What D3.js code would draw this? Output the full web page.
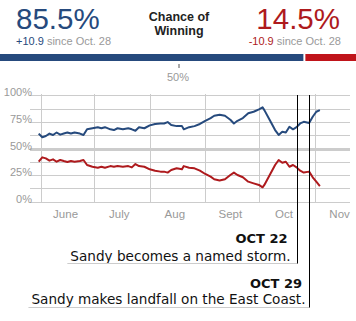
<!DOCTYPE html>
<html><head><meta charset="utf-8">
<script src="https://cdn.jsdelivr.net/npm/d3@7"></script>
<style>
html,body{margin:0;padding:0;background:#fff;}
svg{display:block;}
</style></head>
<body>
<script>
// ---- data ----
const dates = ["2012-05-31","2012-06-02","2012-06-04","2012-06-06","2012-06-08","2012-06-10","2012-06-12","2012-06-14","2012-06-16","2012-06-18","2012-06-20","2012-06-23","2012-06-25","2012-06-27","2012-06-30",
"2012-07-03","2012-07-05","2012-07-07","2012-07-10","2012-07-12","2012-07-14","2012-07-17","2012-07-20","2012-07-22","2012-07-24","2012-07-26","2012-07-29",
"2012-08-01","2012-08-04","2012-08-07","2012-08-09","2012-08-11","2012-08-13","2012-08-16","2012-08-19","2012-08-20","2012-08-23","2012-08-26","2012-08-29",
"2012-09-01","2012-09-04","2012-09-06","2012-09-09","2012-09-12","2012-09-15","2012-09-17","2012-09-19","2012-09-22","2012-09-25","2012-09-28",
"2012-10-01","2012-10-03","2012-10-04","2012-10-07","2012-10-10","2012-10-12","2012-10-14","2012-10-16","2012-10-18","2012-10-20","2012-10-22","2012-10-24","2012-10-26","2012-10-29","2012-10-31",
"2012-11-02","2012-11-04"];
const obamaChance = [64,60.5,61.7,64,62.7,65,63,64,65,64,65,64,62.7,68,69,
70,69,70,68,67.3,69,68,69,68,66.7,70,69,
71.7,73,73.5,73.5,74.8,72,71,71,68,70,71,73,
76,78.5,80.7,81.7,80.7,77,73.5,76,78.5,83,84.5,
86.7,88.6,86,76.7,67.3,62.7,65.7,65,70.4,68,70,73.5,75,74,79.8,
84.5,86];
const romneyChance = [37.6,41.7,40.7,38.6,39.8,37.6,39.2,38.2,37.3,38.2,37.6,38.2,39.2,34.5,32.9,
32,32.9,32,33.5,32.9,33.5,32.9,33.5,32.3,35.4,33.5,32.9,
30.5,29.2,28.3,28.3,27.4,29.8,31.4,30.5,33.5,32,31.4,29.2,
26.1,23.6,21.1,19.9,21.1,25.1,27.4,25.1,23,18.9,17.3,
15.8,13.6,15.8,25.1,34.5,39.2,36.7,37.6,32.9,34.5,32.3,29.2,27.4,28.3,23,
18.9,14.8];
const yTicks = [0,25,50,75,100];
const yGrid = [0,12.5,25,37.5,50,62.5,75,87.5,100];
const monthStarts = ["2012-06-01","2012-07-01","2012-08-01","2012-09-01","2012-10-01","2012-11-01"];
const monthLabels = ["June","July","Aug","Sept","Oct","Nov"];
const monthLabelDates = ["2012-06-15","2012-07-15","2012-08-15","2012-09-15","2012-10-15","2012-11-15"];
const headline = {obama:85.5, romney:14.5, obamaChange:"+10.9", romneyChange:"-10.9", since:"since Oct. 28"};
const events = [
  {date:"2012-10-22", title:"OCT 22", text:"Sandy becomes a named storm."},
  {date:"2012-10-29", title:"OCT 29", text:"Sandy makes landfall on the East Coast."}
];

// ---- drawing ----
const W=356,H=321;
const BLUE="#264a7d", RED="#ae1a1d";
const parse=d3.timeParse("%Y-%m-%d");
const svg=d3.select("body").append("svg").attr("width",W).attr("height",H);
const SANS="Liberation Sans, Arial, sans-serif";

// Header
svg.append("text").attr("x",16).attr("y",28.5).attr("font-family",SANS)
  .attr("font-size",29.5).attr("fill",BLUE).text(headline.obama+"%");
const sub1=svg.append("text").attr("x",16).attr("y",45).attr("font-family",SANS).attr("font-size",11);
sub1.append("tspan").attr("fill",BLUE).text(headline.obamaChange);
sub1.append("tspan").attr("fill","#999").text(" "+headline.since);

svg.append("text").attr("x",340).attr("y",28.5).attr("text-anchor","end").attr("font-family",SANS)
  .attr("font-size",29.5).attr("fill",RED).text(headline.romney+"%");
const sub2=svg.append("text").attr("x",341).attr("y",45).attr("text-anchor","end").attr("font-family",SANS).attr("font-size",11);
sub2.append("tspan").attr("fill",RED).text(headline.romneyChange);
sub2.append("tspan").attr("fill","#999").text(" "+headline.since);

svg.append("text").attr("x",179).attr("y",21).attr("text-anchor","middle").attr("font-family",SANS)
  .attr("font-size",12.5).attr("font-weight","bold").attr("fill","#222").text("Chance of");
svg.append("text").attr("x",179).attr("y",35).attr("text-anchor","middle").attr("font-family",SANS)
  .attr("font-size",12.5).attr("font-weight","bold").attr("fill","#222").text("Winning");

// bar
const xb=d3.scaleLinear().domain([0,100]).range([0,W]);
svg.append("rect").attr("x",xb(0)).attr("y",54).attr("width",xb(headline.obama)-1).attr("height",7).attr("fill",BLUE);
svg.append("rect").attr("x",xb(headline.obama)+1).attr("y",54).attr("width",xb(100)-xb(headline.obama)-1).attr("height",7).attr("fill","#c0141a");
svg.append("line").attr("x1",xb(50)+1).attr("x2",xb(50)+1).attr("y1",64).attr("y2",68).attr("stroke","#555").attr("stroke-width",1);
svg.append("text").attr("x",xb(50)).attr("y",81).attr("text-anchor","middle").attr("font-family",SANS)
  .attr("font-size",11).attr("fill","#999").text("50%");

// chart
const x=d3.scaleTime().domain([parse("2012-06-01"),parse("2012-11-01")]).range([40.5,314.5]);
const y=d3.scaleLinear().domain([0,100]).range([201.8,95.2]);

const g=svg.append("g");
g.selectAll("line.hg").data(yGrid).enter().append("line")
  .attr("x1",30).attr("x2",350).attr("y1",d=>Math.round(y(d))+0.5).attr("y2",d=>Math.round(y(d))+0.5)
  .attr("stroke","#ccc").attr("stroke-width",d=>d===50?3:1);
g.selectAll("line.vg").data(monthStarts).enter().append("line")
  .attr("x1",d=>Math.round(x(parse(d)))+0.5).attr("x2",d=>Math.round(x(parse(d)))+0.5)
  .attr("y1",94).attr("y2",203).attr("stroke","#ccc").attr("stroke-width",1);

g.selectAll("text.yl").data(yTicks).enter().append("text")
  .attr("x",32).attr("y",d=>y(d)+1).attr("text-anchor","end")
  .attr("font-family",SANS).attr("font-size",11).attr("fill","#999").text(d=>d+"%");

g.selectAll("text.ml").data(monthLabels).enter().append("text")
  .attr("x",(d,i)=>x(parse(monthLabelDates[i]))).attr("y",218).attr("text-anchor","middle")
  .attr("font-family",SANS).attr("font-size",11.5).attr("fill","#999").text(d=>d);

const pts=(vals)=>dates.map((d,i)=>[parse(d),vals[i]]);
const line=d3.line().x(d=>x(d[0])).y(d=>y(d[1]));
g.append("path").attr("d",line(pts(romneyChance))).attr("fill","none").attr("stroke",RED).attr("stroke-width",2).attr("stroke-linejoin","round");
g.append("path").attr("d",line(pts(obamaChance))).attr("fill","none").attr("stroke",BLUE).attr("stroke-width",2).attr("stroke-linejoin","round");

// annotations
const ann=[{titleY:243,textY:260.5,bottom:263.5,titleOff:10,textOff:7},{titleY:288,textY:304,bottom:307.5,titleOff:7.5,textOff:4}];
events.forEach((e,i)=>{
  const a=ann[i];
  const lx=Math.round(x(parse(e.date)))+0.5;
  const t=svg.append("text").attr("x",lx-a.textOff).attr("y",a.textY).attr("text-anchor","end")
    .attr("font-family","DejaVu Sans, sans-serif").attr("font-size",13.6).attr("fill","#111").text(e.text);
  const bb=t.node().getBBox();
  svg.append("line").attr("x1",bb.x-3).attr("x2",lx).attr("y1",a.bottom).attr("y2",a.bottom).attr("stroke","#ccc").attr("stroke-width",1);
  svg.append("text").attr("x",lx-a.titleOff).attr("y",a.titleY).attr("text-anchor","end")
    .attr("font-family","DejaVu Sans, sans-serif").attr("font-weight","bold").attr("font-size",13).attr("fill","#111").text(e.title);
  svg.append("line").attr("x1",lx).attr("x2",lx).attr("y1",95).attr("y2",a.bottom).attr("stroke","#000").attr("stroke-width",1);
});
</script>
</body></html>
